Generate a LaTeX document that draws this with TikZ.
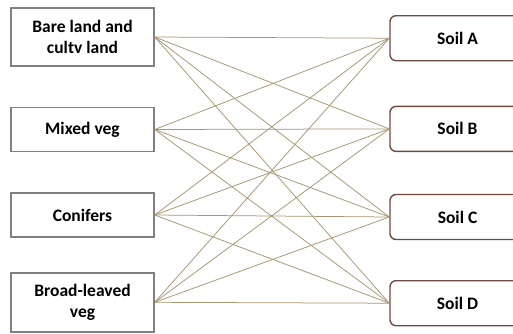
\documentclass[tikz,border=0pt]{standalone}
\usepackage{fontspec}
\setmainfont{Carlito}
\begin{document}
\begin{tikzpicture}[x=1pt,y=-1pt,
  landbox/.style={draw=boxgrey,line width=1.4pt,fill=white,inner sep=0pt,
    minimum width=143pt,align=center,font=\bfseries\fontsize{17.5}{21}\selectfont},
  soilbox/.style={draw=soilbrown,line width=1.4pt,fill=white,rounded corners=6pt,inner sep=0pt,
    minimum width=135pt,minimum height=45pt,font=\bfseries\fontsize{17.5}{21}\selectfont},
  link/.style={draw=linktan,line width=0.75pt}]
\definecolor{boxgrey}{HTML}{808080}
\definecolor{soilbrown}{HTML}{6E4A40}
\definecolor{linktan}{HTML}{A8946F}
\useasboundingbox (0,0) rectangle (513,333);
% land-cover classes
\node[landbox,minimum height=58pt] (bare) at (82.5,37) {Bare land and\\cultv land};
\node[landbox,minimum height=44pt] (mixed) at (82.5,129.5) {Mixed veg};
\node[landbox,minimum height=44pt] (conif) at (82.5,215) {Conifers};
\node[landbox,minimum height=59pt] (broad) at (82.5,302.3) {Broad-leaved\\veg};
% soil classes
\node[soilbox] (sa) at (457.5,38.2) {Soil A};
\node[soilbox] (sb) at (457.5,128.9) {Soil B};
\node[soilbox] (sc) at (457.5,217) {Soil C};
\node[soilbox] (sd) at (457.5,303.2) {Soil D};
% every land class to every soil class
\foreach \l in {bare,mixed,conif,broad}
  \foreach \s in {sa,sb,sc,sd}
    \draw[link] (\l.east) -- (\s.west);
\end{tikzpicture}
\end{document}
